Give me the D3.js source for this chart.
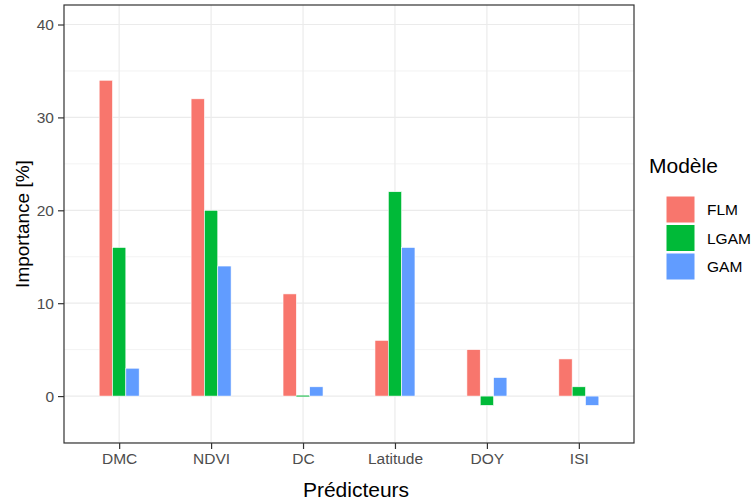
<!DOCTYPE html>
<html>
<head>
<meta charset="utf-8">
<script src="https://cdn.jsdelivr.net/npm/d3@7"></script>
<style>
  body { margin: 0; background: #fff; }
  svg text { font-family: "Liberation Sans", Arial, sans-serif; }
</style>
</head>
<body>
<script>
// data
var predictors = ["DMC", "NDVI", "DC", "Latitude", "DOY", "ISI"];
var models = ["FLM", "LGAM", "GAM"];
var flm  = [34, 32, 11, 6, 5, 4];
var lgam = [16, 20, 0, 22, -1, 1];
var gam  = [3, 14, 1, 16, 2, -1];
var colors = ["#F8766D", "#00BA38", "#619CFF"];
var yTicks = [0, 10, 20, 30, 40];
var yMinor = [-5, 5, 15, 25, 35];

var panel = {left: 64, top: 5, right: 634, bottom: 443};

var svg = d3.select("body").append("svg")
    .attr("width", 753)
    .attr("height", 502);

// discrete x with ggplot's 0.6 expansion
var x = d3.scalePoint()
    .domain(predictors)
    .range([panel.left, panel.right])
    .padding(0.6);

var y = d3.scaleLinear()
    .domain([-5.05, 42.1])
    .range([panel.bottom, panel.top]);

var x1 = d3.scaleBand()
    .domain(models)
    .range([-20, 20]);

var color = d3.scaleOrdinal().domain(models).range(colors);

// gridlines
svg.selectAll(".minor")
  .data(yMinor)
  .enter().append("line")
    .attr("x1", panel.left).attr("x2", panel.right)
    .attr("y1", function(d) { return y(d); })
    .attr("y2", function(d) { return y(d); })
    .style("stroke", "#ebebeb")
    .style("stroke-width", 0.6);

svg.selectAll(".major")
  .data(yTicks)
  .enter().append("line")
    .attr("x1", panel.left).attr("x2", panel.right)
    .attr("y1", function(d) { return y(d); })
    .attr("y2", function(d) { return y(d); })
    .style("stroke", "#ebebeb")
    .style("stroke-width", 1.2);

svg.selectAll(".vgrid")
  .data(predictors)
  .enter().append("line")
    .attr("x1", function(d) { return x(d); })
    .attr("x2", function(d) { return x(d); })
    .attr("y1", panel.top).attr("y2", panel.bottom)
    .style("stroke", "#ebebeb")
    .style("stroke-width", 1.2);

// bars
var rows = predictors.map(function(p, i) {
  return {p: p, vals: [flm[i], lgam[i], gam[i]]};
});

var group = svg.selectAll(".grp")
  .data(rows)
  .enter().append("g")
    .attr("class", "grp")
    .attr("transform", function(d) { return "translate(" + x(d.p) + ",0)"; });

group.selectAll("rect")
  .data(function(d) { return d.vals.map(function(v, j) { return {m: models[j], v: v}; }); })
  .enter().append("rect")
    .attr("x", function(d) { return x1(d.m); })
    .attr("width", x1.bandwidth())
    .attr("y", function(d) { return d.v === 0 ? y(0) - 0.8 : y(Math.max(0, d.v)); })
    .attr("height", function(d) { return d.v === 0 ? 1.6 : Math.abs(y(d.v) - y(0)); })
    .style("fill", function(d) { return color(d.m); })
    .style("stroke", function(d) { return d.v === 0 ? "none" : "#fff"; })
    .style("stroke-width", 0.6)
    .style("opacity", function(d) { return d.v === 0 ? 0.6 : 1; });

// panel border
svg.append("rect")
    .attr("x", panel.left).attr("y", panel.top)
    .attr("width", panel.right - panel.left)
    .attr("height", panel.bottom - panel.top)
    .style("fill", "none")
    .style("stroke", "#333")
    .style("stroke-width", 1.2);

// axes
var yAxis = svg.append("g")
    .attr("transform", "translate(" + panel.left + ",0)")
    .call(d3.axisLeft(y).tickValues(yTicks).tickSize(6).tickPadding(4));
var xAxis = svg.append("g")
    .attr("transform", "translate(0," + panel.bottom + ")")
    .call(d3.axisBottom(x).tickSize(6).tickPadding(4));

[yAxis, xAxis].forEach(function(a) {
  a.select(".domain").remove();
  a.selectAll(".tick line").style("stroke", "#333").style("stroke-width", 1.2);
  a.selectAll(".tick text")
    .style("fill", "#4d4d4d")
    .style("font-size", "15.5px")
    .style("font-family", "'Liberation Sans', Arial, sans-serif");
});

// axis titles
svg.append("text")
    .attr("x", (panel.left + panel.right) / 2 + 7)
    .attr("y", 497)
    .attr("text-anchor", "middle")
    .style("font-size", "21px")
    .text("Prédicteurs");

svg.append("text")
    .attr("transform", "translate(29," + (panel.top + panel.bottom) / 2 + ") rotate(-90)")
    .attr("text-anchor", "middle")
    .style("font-size", "19px")
    .text("Importance [%]");

// legend
var legend = svg.append("g").attr("transform", "translate(649,0)");
legend.append("text")
    .attr("x", 0).attr("y", 173)
    .style("font-size", "21px")
    .text("Modèle");

var key = legend.selectAll(".key")
  .data(models)
  .enter().append("g")
    .attr("transform", function(d, i) { return "translate(17," + (196 + i * 28.5) + ")"; });

key.append("rect")
    .attr("width", 29).attr("height", 27)
    .style("fill", function(d) { return color(d); })
    .style("stroke", "#fff");

key.append("text")
    .attr("x", 41).attr("y", 19)
    .style("font-size", "15.5px")
    .text(function(d) { return d; });
</script>
</body>
</html>
